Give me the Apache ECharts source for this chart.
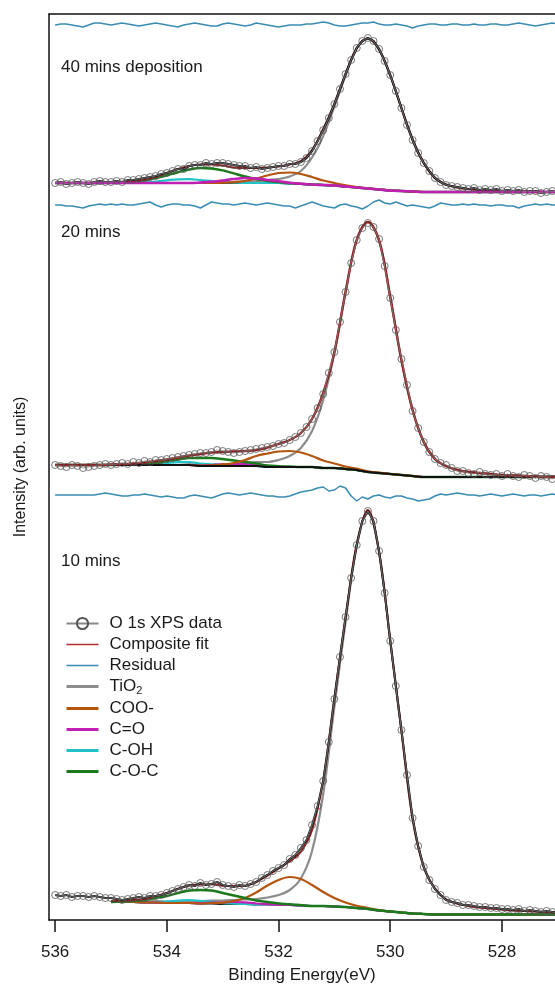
<!DOCTYPE html>
<html><head><meta charset="utf-8">
<script src="https://cdn.jsdelivr.net/npm/echarts@6/dist/echarts.min.js"></script>
<style>html,body{margin:0;padding:0;background:#fff}#c{width:555px;height:985px}</style>
</head><body><div id="c"></div>
<script>
// ---------- energies (eV) ----------
const energyFit = [536.0,535.8,535.6,535.4,535.2,535.0,534.8,534.6,534.4,534.2,534.0,533.8,533.6,533.4,533.2,533.0,532.8,532.6,532.4,532.2,532.0,531.8,531.6,531.4,531.2,531.0,530.8,530.6,530.4,530.2,530.0,529.8,529.6,529.4,529.2,529.0,528.8,528.6,528.4,528.2,528.0,527.8,527.6,527.4,527.2,527.0];
const energyData = [536.0,535.9,535.8,535.7,535.6,535.5,535.4,535.3,535.2,535.1,535.0,534.9,534.8,534.7,534.6,534.5,534.4,534.3,534.2,534.1,534.0,533.9,533.8,533.7,533.6,533.5,533.4,533.3,533.2,533.1,533.0,532.9,532.8,532.7,532.6,532.5,532.4,532.3,532.2,532.1,532.0,531.9,531.8,531.7,531.6,531.5,531.4,531.3,531.2,531.1,531.0,530.9,530.8,530.7,530.6,530.5,530.4,530.3,530.2,530.1,530.0,529.9,529.8,529.7,529.6,529.5,529.4,529.3,529.2,529.1,529.0,528.9,528.8,528.7,528.6,528.5,528.4,528.3,528.2,528.1,528.0,527.9,527.8,527.7,527.6,527.5,527.4,527.3,527.2,527.1,527.0];
const tickValues = [528,530,532,534,536];

// ---------- 40 mins deposition (offset trace, arb. units) ----------
const bg40 = [737,737,737,737,737,737,737,737,737,737,737,737,737,737,737,737,737,737,737,737,737,736.5,736,735.5,735,734.5,733.5,732.5,731.5,730.5,729.5,729,728.5,728,728,728,728,728,728,728,728,728,728,728,728,728];
const tio2_40 = [0,0,0,0,0,0,0,0,0,0,0,0,0,0,0.5,1,1,1.5,2,3,4,7,13,27,49,79,111,139,150,140,115,83,52,29,14,7.5,4.5,3,2,1.5,1,1,0.5,0.5,0,0];
const coo40 = [0,0,0,0,0,0,0,0,0,0,0,0,0,0,0,0.3,0.8,2,4.5,7.5,10,11,10,7.5,4.5,2.5,1.2,0.5,0.2,0,0,0,0,0,0,0,0,0,0,0,0,0,0,0,0,0];
const co40 = [0,0,0,0,0,0,0,0,0,0,0,0,0,0.5,1.2,2.5,4,5,4.5,3,1.7,0.8,0.3,0,0,0,0,0,0,0,0,0,0,0,0,0,0,0,0,0,0,0,0,0,0,0];
const coh40 = [0,0,0,0,0,0,0,0,0.6,1.5,2.7,3.7,3.8,3,1.8,0.9,0.4,0,0,0,0,0,0,0,0,0,0,0,0,0,0,0,0,0,0,0,0,0,0,0,0,0,0,0,0,0];
const coc40 = [0,0,0,0,0,0.3,0.6,1.4,2.7,4.9,7.7,10.8,13.5,15,14.6,12.6,9.6,6.6,4,2.1,1,0.4,0.2,0,0,0,0,0,0,0,0,0,0,0,0,0,0,0,0,0,0,0,0,0,0,0];
const fit40 = [737,737,737,737,737.2,737.5,738,739,740.5,743,747,751,754,755.5,755.5,754.5,752.5,752,752,752.5,753.5,755.5,759,770,791,816,846,872,881.5,870.5,844.5,812,780.5,757,742,735.5,732.5,731,730,729.5,729,729,728.5,728.5,728,728];
const data40 = [737,738,736,737,738,737,736,738,739,738,738,739,738,740,740,741,742,743,744,746,747,749,751,751,754,755,755,757,756,757,757,756,755,754,754,752,753,751,752,753,754,754,756,756,758,762,769,779,790,802,816,831,846,860,872,879,882,879,871,859,845,829,812,795,780,767,757,749,742,738,735,734,733,732,731,732,730,731,730,731,729,730,729,730,728,729,729,727,728,729,727];
const res40 = [895,896,896,895,894,893,895,897,897,896,895,896,897,896,895,894,895,896,897,896,895,894,893,895,896,897,896,895,894,894,896,897,896,895,894,895,897,896,895,894,893,894,895,895,895,896,896,897,898,897,895,894,894,895,896,897,897,898,896,895,895,896,895,894,892,894,895,896,896,895,895,896,896,895,895,896,895,895,896,896,895,895,896,897,896,895,894,895,896,897,896];

// ---------- 20 mins ----------
const bg20 = [455,455,455,455,455,455,455,455,455,455,455,455,455,454,454,454,454,454,454,453,453,453,453,453,452,452,451,450,448,447,446,445,444,443,443,443,443,443,443,443,443,443,443,443,443,443];
const tio2_20 = [0,0,0,0,0,0,0,0,0,0,0,0,1,1,1,2,2,3,4,5,7,11,19,36,68,115,177,230,250,232,177,115,66,35,18,11,7,5,4,3,2,2,1,1,1,1];
const coo20 = [0,0,0,0,0,0,0,0,0,0,0,0,0,0.3,0.7,1.5,3,6,10,13.5,15.5,16,14.5,11,7.5,4.5,2.5,1.3,0.7,0.3,0,0,0,0,0,0,0,0,0,0,0,0,0,0,0,0];
const co20 = [0,0,0,0,0,0,0,0,0,0,0,0,0,0.5,1,1.7,2,1.8,1.2,0.6,0.3,0,0,0,0,0,0,0,0,0,0,0,0,0,0,0,0,0,0,0,0,0,0,0,0,0];
const coh20 = [0,0,0,0,0,0,0,0,0.5,1.2,2,2.8,3,2.5,1.7,1,0.5,0.2,0,0,0,0,0,0,0,0,0,0,0,0,0,0,0,0,0,0,0,0,0,0,0,0,0,0,0,0];
const coc20 = [0,0,0,0,0,0,0.2,0.5,1,2,4,5.5,7,8,8,7,5.5,4,2.5,1.5,0.8,0.4,0,0,0,0,0,0,0,0,0,0,0,0,0,0,0,0,0,0,0,0,0,0,0,0];
const fit20 = [455,455,455,455,455,455.5,456,456.5,457.5,459,460.5,462.5,464.5,466,467.5,468,468.5,469,470,472.5,476,480,487,501,527,568,628,680,698,680,623,560,510,478,461,454,450,448,447,446,445,444.5,444,443.5,443,443];
const data20 = [455,454,453,455,454,452,453,454,455,456,455,456,457,456,458,457,459,458,460,460,461,462,463,464,465,466,467,467,468,470,469,468,467,468,469,470,471,472,473,474,476,477,480,483,487,493,501,512,526,547,568,598,628,657,680,692,697,693,681,654,622,590,561,535,509,492,478,468,461,457,455,452,449,449,447,446,448,446,445,446,444,446,444,443,445,444,442,444,443,441,443];
const res20 = [715,715,714,714,713,712,714,715,716,715,716,715,716,715,715,716,717,718,715,713,715,716,716,715,715,714,712,715,718,717,716,716,715,716,717,716,715,716,717,716,715,714,714,712,714,716,718,716,714,713,712,715,716,714,713,711,714,718,720,717,716,718,716,714,715,714,713,712,714,717,716,715,715,716,715,716,715,715,714,715,715,714,714,712,714,715,716,715,716,715,715];

// ---------- 10 mins ----------
const bg10 = [null,null,null,null,null,18,18,18,17.5,17.5,17,17,17,16.5,16.5,16,16,16,15.5,15.5,15,15,14.5,14,14,13.5,13,12,11,9.5,8.5,7.5,6.5,6,5.5,5.5,5.5,5.5,5.5,5.5,5.5,5.5,5.5,5.5,5.5,5.5];
const tio2_10 = [0,0,0,0,0,1,1,1,1,1.5,1.5,2,2,2.5,3,3.5,4,4.5,5.5,7,10,15,27,55,112,200,285,362,398,358,271,182,95,47,26,15,11,8.5,7,6,5,4,3.5,3,2.5,2];
const coo10 = [0,0,0,0,0,0,0,0,0,0,0,0,0,0,0.5,1.3,3,6,12,19,25,28,26.5,21,14,8.5,4.5,2.2,1,0.5,0,0,0,0,0,0,0,0,0,0,0,0,0,0,0,0];
const co10 = [0,0,0,0,0,0,0,0,0,0,0,0,0,0.4,0.9,1.5,2,1.7,1,0.4,0,0,0,0,0,0,0,0,0,0,0,0,0,0,0,0,0,0,0,0,0,0,0,0,0,0];
const coh10 = [0,0,0,0,0,0,0,0,0,0.5,1.3,2.3,3,2.7,1.8,0.9,0.4,0,0,0,0,0,0,0,0,0,0,0,0,0,0,0,0,0,0,0,0,0,0,0,0,0,0,0,0,0];
const coc10 = [0,0,0,0,0,0,0.4,1,2.5,4.5,7,10,12.5,13.5,13,11,8.5,6,4,2.5,1.5,0.8,0.4,0,0,0,0,0,0,0,0,0,0,0,0,0,0,0,0,0,0,0,0,0,0,0];
const fit10 = [null,null,null,null,null,19,19.4,20,21,24,26.8,31.3,34.5,35.6,35.7,34.2,33.9,34.2,38,44.4,51.5,58.8,68.4,90,140,222,302.5,376,410,368,279.5,189.5,101.5,53,31.5,20.5,16.5,14,12.5,11.5,10.5,9.5,9,8.5,8,7.5];
const data10 = [25,24,25,23,24,24,23,24,23,22,22,21,20,21,22,23,22,24,24,25,27,29,31,33,35,34,37,35,36,38,35,34,33,35,34,36,38,42,45,49,52,55,61,65,72,80,95,114,139,178,221,263,303,342,375,399,409,399,369,327,279,234,190,145,102,74,53,40,31,25,20,18,17,15,15,14,13,13,12,12,11,11,10,11,9,10,9,8,9,8,7];
const res10 = [425,425,425,425,425,425,425,425,426,427,426,425,424,424,425,425,426,425,424,423,424,423,422,422,424,425,424,423,422,424,426,427,426,425,426,427,426,425,424,424,423,423,424,426,428,429,430,432,433,429,430,434,432,424,419,423,421,424,425,423,422,424,424,422,421,419,420,421,424,426,425,426,427,426,425,425,424,425,426,425,424,425,426,425,424,425,425,424,425,426,425];

const panelLabels = ['40 mins deposition','20 mins','10 mins'];

// ---------- styling ----------
const FONT = 'Arial, "Liberation Sans", Helvetica, sans-serif';
const COL = {fit:'#8e1a1a', res:'#3a8cb5', tio2:'#8c8c8c', coo:'#b5540f', co:'#c21fb3', coh:'#22c3c8', coc:'#1b7a1b', bg:'#111111', trace:'#111111'};

function xy(xs, ys){ return xs.map((x,i)=>[x, ys[i]==null?null:ys[i]]); }
function onBg(xs, bg, h){ return xs.map((x,i)=>[x, bg[i]==null?null:bg[i]+h[i]]); }
function line(name, data, color, width, z, smooth){
  return {type:'line', name, data, symbol:'none', z, smooth: smooth?0.35:false,
    lineStyle:{color, width}, itemStyle:{color}, silent:true, connectNulls:false};
}
function circles(data){
  return {type:'line', name:'O 1s XPS data', data, symbol:'circle', symbolSize:7, showAllSymbol:true, z:8,
    itemStyle:{color:'rgba(0,0,0,0)', borderColor:'#555', borderWidth:0.8},
    lineStyle:{color:'#888', width:0.8}, silent:true};
}

const series = [];
// panel 40 mins
series.push(line('Residual', xy(energyData,res40), COL.res, 1.5, 3));
series.push(line('bg40', xy(energyFit,bg40), COL.bg, 2, 3, true));
series.push(line('TiO2', onBg(energyFit,bg40,tio2_40), COL.tio2, 2.2, 3, true));
series.push(line('C-OH', onBg(energyFit,bg40,coh40), COL.coh, 2.2, 3, true));
series.push(line('C-O-C', onBg(energyFit,bg40,coc40), COL.coc, 2.5, 3, true));
series.push(line('COO-', onBg(energyFit,bg40,coo40), COL.coo, 2.2, 3, true));
series.push(line('Composite fit', xy(energyFit,fit40), COL.fit, 2, 4, true));
series.push(line('trace40', xy(energyData,data40), COL.trace, 2.2, 5));
series.push(line('C=O', onBg(energyFit,bg40,co40), COL.co, 2.6, 6, true));
series.push(circles(xy(energyData,data40)));
// panel 20 mins
series.push(line('Residual', xy(energyData,res20), COL.res, 1.5, 3));
series.push(line('TiO2', onBg(energyFit,bg20,tio2_20), COL.tio2, 2.2, 3, true));
series.push(line('C-OH', onBg(energyFit,bg20,coh20), COL.coh, 2.2, 3, true));
series.push(line('C=O', onBg(energyFit,bg20,co20), COL.co, 2.2, 3, true));
series.push(line('C-O-C', onBg(energyFit,bg20,coc20), COL.coc, 2.5, 3, true));
series.push(line('COO-', onBg(energyFit,bg20,coo20), COL.coo, 2.2, 3, true));
series.push(line('bg20', xy(energyFit,bg20), COL.bg, 2, 4, true));
series.push(line('Composite fit', xy(energyFit,fit20), COL.fit, 2.4, 5, true));
series.push(circles(xy(energyData,data20)));
// panel 10 mins
series.push(line('Residual', xy(energyData,res10), COL.res, 1.5, 3));
series.push(line('bg10', xy(energyFit,bg10), COL.bg, 2, 3, true));
series.push(line('TiO2', onBg(energyFit,bg10,tio2_10), COL.tio2, 2.2, 3, true));
series.push(line('C-OH', onBg(energyFit,bg10,coh10), COL.coh, 2.2, 3, true));
series.push(line('C=O', onBg(energyFit,bg10,co10), COL.co, 2.2, 3, true));
series.push(line('COO-', onBg(energyFit,bg10,coo10), COL.coo, 2.2, 3, true));
series.push(line('C-O-C', onBg(energyFit,bg10,coc10), COL.coc, 2.5, 3, true));
series.push(line('Composite fit', xy(energyFit,fit10), COL.fit, 2, 4, true));
series.push(line('trace10', xy(energyData,data10), COL.trace, 2, 5));
series.push(circles(xy(energyData,data10)));

const noSym = {color:'rgba(0,0,0,0)', borderWidth:0, borderColor:'rgba(0,0,0,0)'};
const chart = echarts.init(document.getElementById('c'), null, {renderer:'canvas'});
chart.setOption({
  animation:false,
  backgroundColor:'#fff',
  grid:{left:49, right:0, top:14, bottom:65, containLabel:false, outerBoundsMode:'none'},
  xAxis:[{
    type:'value', min:527.05, max:536.11, inverse:true,
    name:'Binding Energy(eV)', nameLocation:'middle', nameGap:47,
    nameTextStyle:{fontFamily:FONT, fontSize:17, color:'#1a1a1a'},
    axisLine:{show:true, onZero:false, lineStyle:{color:'#111', width:1.5}},
    axisTick:{show:true, length:12, lineStyle:{color:'#111', width:1.5}, customValues:tickValues},
    axisLabel:{show:true, margin:24, fontFamily:FONT, fontSize:17, color:'#1a1a1a', customValues:tickValues},
    splitLine:{show:false}
  },{
    type:'value', position:'top', min:527.05, max:536.11, inverse:true,
    axisLine:{show:true, onZero:false, lineStyle:{color:'#111', width:1.5}},
    axisTick:{show:false}, axisLabel:{show:false}, splitLine:{show:false}
  }],
  yAxis:{
    type:'value', min:0, max:906,
    name:'Intensity (arb. units)', nameLocation:'middle', nameGap:20,
    nameTextStyle:{fontFamily:FONT, fontSize:16, color:'#1a1a1a'},
    axisLine:{show:true, onZero:false, lineStyle:{color:'#111', width:1.5}},
    axisTick:{show:false}, axisLabel:{show:false}, splitLine:{show:false}
  },
  legend:{
    orient:'vertical', left:60, top:610, selectedMode:false,
    itemWidth:32, itemHeight:14, itemGap:4,
    textStyle:{fontFamily:FONT, fontSize:17, color:'#1a1a1a', lineHeight:17, padding:[0,0,0,6],
      rich:{s:{fontFamily:FONT, fontSize:11, color:'#1a1a1a', padding:[8,0,0,0]}}},
    formatter:(n)=> n==='TiO2' ? 'TiO{s|2}' : n,
    data:[
      {name:'O 1s XPS data'},
      {name:'Composite fit', lineStyle:{width:1.3, color:'#b03030'}, itemStyle:noSym},
      {name:'Residual', lineStyle:{width:1.3}, itemStyle:noSym},
      {name:'TiO2', lineStyle:{width:3}, itemStyle:noSym},
      {name:'COO-', lineStyle:{width:3}, itemStyle:noSym},
      {name:'C=O', lineStyle:{width:3}, itemStyle:noSym},
      {name:'C-OH', lineStyle:{width:3}, itemStyle:noSym},
      {name:'C-O-C', lineStyle:{width:3}, itemStyle:noSym}
    ]
  },
  graphic:[
    {type:'text', left:61, top:59, style:{text:panelLabels[0], fontFamily:FONT, fontSize:17, fill:'#1a1a1a'}},
    {type:'text', left:61, top:224, style:{text:panelLabels[1], fontFamily:FONT, fontSize:17, fill:'#1a1a1a'}},
    {type:'text', left:61, top:553, style:{text:panelLabels[2], fontFamily:FONT, fontSize:17, fill:'#1a1a1a'}}
  ],
  series
});
</script></body></html>
